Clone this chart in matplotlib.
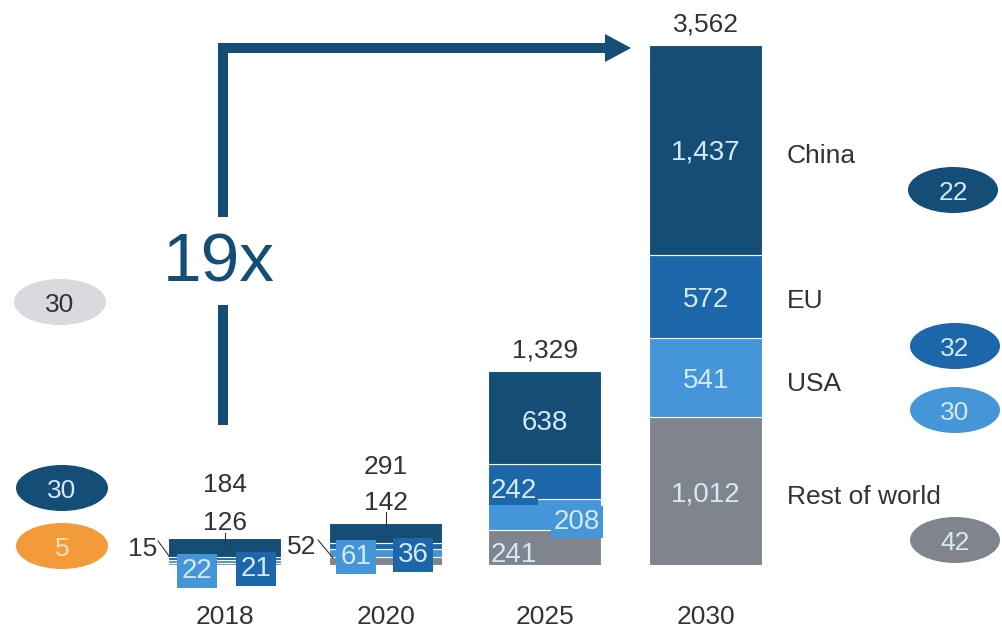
import matplotlib.pyplot as plt
from matplotlib.patches import Ellipse, Polygon

plt.rcParams['font.family'] = ['Liberation Sans', 'DejaVu Sans']

years = ['2018', '2020', '2025', '2030']
regions = ['China', 'EU', 'USA', 'Rest of world']
china = [126, 142, 638, 1437]
eu = [21, 36, 242, 572]
usa = [22, 61, 208, 541]
rest = [15, 52, 241, 1012]
totals = [184, 291, 1329, 3562]
growth = '19x'

left_bubbles = [30, 30, 5]
right_bubbles = [22, 32, 30, 42]

C_CHINA = '#144d75'
C_EU = '#1b67aa'
C_USA = '#4496d8'
C_REST = '#7f848d'
C_PALE = '#d3e9f6'
C_TEXT = '#333333'

W, H = 1002, 635
fig = plt.figure(figsize=(W / 100, H / 100), dpi=100)

# bar axes: x in pixels, y in value units (0 sits 70 px above the bottom)
k = 3562 / 520
ax = fig.add_axes([0, 0, 1, 1])
ax.set_xlim(0, W)
ax.set_ylim(-70 * k, 565 * k)
ax.axis('off')

xs = [225, 386, 545, 706]
bw = 113
bottom = [0, 0, 0, 0]
for vals, col in [(rest, C_REST), (usa, C_USA), (eu, C_EU), (china, C_CHINA)]:
    ax.bar(xs, vals, bw, bottom=bottom, color=col, edgecolor='white', linewidth=0.8, zorder=2)
    bottom = [b + v for b, v in zip(bottom, vals)]

# totals above the two big bars
for x, t in zip(xs[2:], totals[2:]):
    ax.text(x, t + 60, f'{t:,}', ha='center', va='bottom', fontsize=19, color=C_TEXT)

# 2030 segment labels and region names
b = 0
mids = []
for v in [rest[3], usa[3], eu[3], china[3]]:
    mids.append(b + v / 2)
    b += v
for m, v in zip(mids, [rest[3], usa[3], eu[3], china[3]]):
    ax.text(xs[3], m, f'{v:,}', ha='center', va='center_baseline', fontsize=20, color=C_PALE, zorder=3)
name_y = [mids[3] - 25, mids[2] - 15, mids[1] - 25, mids[0] - 25]
for name, y in zip(regions, name_y):
    ax.text(787, y, name, ha='left', va='center_baseline', fontsize=19, color=C_TEXT)

# 2025 segment labels
ax.text(xs[2], rest[2] + usa[2] + eu[2] + china[2] / 2 - 20, f'{china[2]}',
        ha='center', va='center_baseline', fontsize=20, color=C_PALE, zorder=3)
ax.text(xs[2] - bw / 2 + 2, rest[2] + usa[2] + eu[2] / 2 - 40, f'{eu[2]}', ha='left',
        va='center_baseline', fontsize=20, color=C_PALE, zorder=4,
        bbox=dict(boxstyle='square,pad=0.05', fc=C_EU, ec='none'))
ax.text(xs[2] + bw / 2 - 1, rest[2] + usa[2] / 2 - 30, f'{usa[2]}', ha='right',
        va='center_baseline', fontsize=20, color=C_PALE, zorder=4,
        bbox=dict(boxstyle='square,pad=0.1', fc=C_USA, ec='none'))
ax.text(xs[2] - bw / 2 + 2, rest[2] / 2 - 30, f'{rest[2]}', ha='left', va='center_baseline',
        fontsize=20, color=C_PALE, zorder=4)

# overlay in pixel coordinates for callouts, arrow and bubbles
ov = fig.add_axes([0, 0, 1, 1], facecolor='none')
ov.set_xlim(0, W)
ov.set_ylim(H, 0)
ov.axis('off')

small = [
    dict(i=0, ty=482, cy=520, tick=(533, 545), rx=143, ry=546, lead=((158, 541), (169, 556)),
         ux=197, ex=256, by=566),
    dict(i=1, ty=465, cy=500, tick=(512, 527), rx=302, ry=545, lead=((318, 540), (333, 558)),
         ux=356, ex=413, by=552),
]
for s in small:
    i = s['i']
    x = xs[i]
    ov.text(x, s['ty'], f'{totals[i]}', ha='center', va='center_baseline', fontsize=19, color=C_TEXT)
    ov.text(x, s['cy'], f'{china[i]}', ha='center', va='center_baseline', fontsize=19, color=C_TEXT)
    ov.plot([x, x], s['tick'], color=C_TEXT, lw=0.8, zorder=5)
    ov.text(s['rx'], s['ry'], f'{rest[i]}', ha='center', va='center_baseline', fontsize=19, color=C_TEXT)
    (x0, y0), (x1, y1) = s['lead']
    ov.plot([x0, x1], [y0, y1], color=C_TEXT, lw=0.8, zorder=5)
    ov.text(s['ux'], s['by'] + 2, f'{usa[i]}', ha='center', va='center_baseline', fontsize=20,
            color=C_PALE, zorder=6, bbox=dict(boxstyle='square,pad=0.15', fc=C_USA, ec='none'))
    ov.text(s['ex'], s['by'], f'{eu[i]}', ha='center', va='center_baseline', fontsize=20,
            color=C_PALE, zorder=6, bbox=dict(boxstyle='square,pad=0.15', fc=C_EU, ec='none'))

# growth arrow
ov.plot([223, 223, 607], [217, 48, 48], color=C_CHINA, lw=7.2,
        solid_joinstyle='miter', solid_capstyle='butt')
ov.plot([223, 223], [305, 425], color=C_CHINA, lw=7.2, solid_capstyle='butt')
ov.add_patch(Polygon([(605, 34), (631, 48), (605, 62)], closed=True, fc=C_CHINA, ec='none'))
ov.text(219, 263, growth, ha='center', va='center', fontsize=50, color=C_CHINA)

# side bubbles
left = [(60, 302, '#d9d9de', C_TEXT), (62, 488, C_CHINA, C_PALE), (62, 546, '#f39b3a', '#fde3c4')]
for (bx, by, fc, tc), v in zip(left, left_bubbles):
    ov.add_patch(Ellipse((bx, by), 92, 46, fc=fc, ec='none'))
    ov.text(bx, by, str(v), ha='center', va='center_baseline', fontsize=19, color=tc)
right = [(953, 190, C_CHINA), (955, 346, C_EU), (955, 410, C_USA), (955, 540, C_REST)]
for (bx, by, fc), v in zip(right, right_bubbles):
    ov.add_patch(Ellipse((bx, by), 90, 46, fc=fc, ec='none'))
    ov.text(bx, by, str(v), ha='center', va='center_baseline', fontsize=19, color=C_PALE)

# year labels
for x, yr in zip(xs, years):
    ov.text(x, 614, yr, ha='center', va='center_baseline', fontsize=19, color=C_TEXT)

fig.savefig('out.png', dpi=100)
